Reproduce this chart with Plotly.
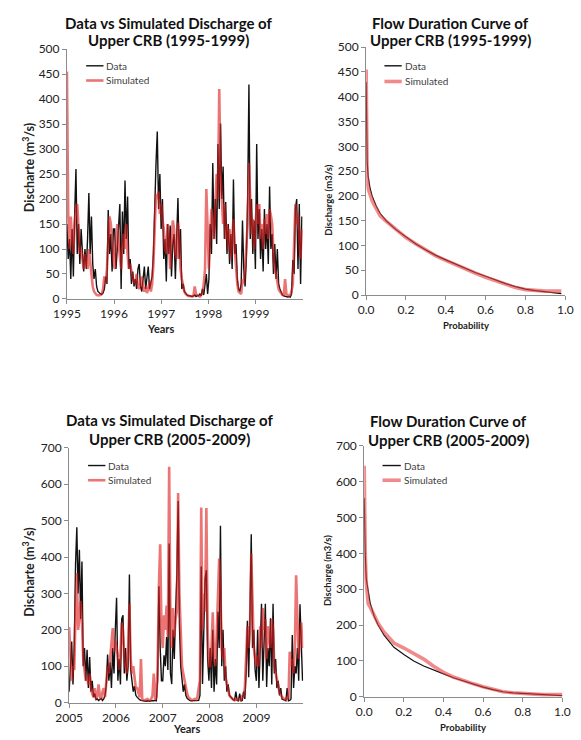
import pandas as pd
import plotly.graph_objects as go

# ---------------- data ----------------
# Daily discharge series sampled every 10 days (m3/s)
STEP = "10D"
START_1 = "1995-01-01"
START_2 = "2005-01-01"

data_1995_1999 = [
    # 1995
    150, 80, 120, 40, 140, 45, 170, 260, 90, 150, 70, 140, 95, 55, 100, 60, 120, 212, 90, 165,
    70, 40, 60, 25, 15, 12, 10, 9, 12, 20, 45, 30, 178, 90, 130, 55, 140,
    # 1996
    140, 60, 100, 150, 190, 20, 175, 90, 237, 120, 205, 60, 80, 30, 55, 25, 40, 20, 60, 70,
    25, 15, 50, 65, 20, 40, 65, 20, 30, 45, 90, 200, 270, 335, 180, 250, 140,
    # 1997
    200, 80, 120, 35, 150, 90, 147, 45, 110, 130, 40, 150, 202, 80, 140, 20, 30, 15, 10, 8,
    7, 6, 6, 5, 6, 8, 5, 7, 6, 10, 6, 20, 8, 35, 50, 10,
    # 1998
    40, 150, 90, 272, 120, 200, 110, 310, 180, 351, 200, 265, 120, 194, 90, 150, 70, 130, 60, 239,
    90, 110, 40, 20, 15, 30, 157, 60, 25, 80, 200, 429, 120, 200, 90, 157, 60,
    # 1999
    310, 120, 180, 80, 140, 55, 180, 100, 150, 70, 225, 100, 130, 50, 110, 40, 100, 30, 20, 12,
    8, 6, 5, 5, 4, 5, 4, 10, 78, 50, 180, 200, 60, 190, 30, 165,
]
sim_1995_1999 = [
    # 1995
    455, 170, 100, 165, 120, 90, 150, 185, 190, 120, 90, 100, 80, 60, 90, 70, 60, 100, 70, 40,
    25, 15, 10, 8, 7, 7, 8, 10, 20, 45, 30, 60, 120, 165, 150, 110, 80,
    # 1996
    60, 120, 150, 110, 80, 60, 110, 130, 100, 150, 90, 60, 70, 55, 40, 35, 30, 50, 25, 20,
    30, 45, 20, 15, 25, 12, 20, 35, 15, 30, 70, 150, 210, 200, 215, 170, 190,
    # 1997
    160, 140, 100, 90, 150, 120, 60, 100, 157, 140, 90, 80, 153, 120, 60, 40, 25, 15, 10, 8,
    6, 6, 5, 5, 6, 25, 10, 8, 6, 5, 8, 12, 30, 60, 220, 120,
    # 1998
    60, 130, 180, 150, 120, 190, 250, 200, 420, 250, 180, 150, 190, 120, 150, 100, 140, 80, 120, 160,
    100, 60, 30, 15, 12, 10, 40, 30, 60, 120, 150, 272, 180, 130, 160, 100, 140,
    # 1999
    190, 150, 190, 120, 150, 100, 160, 130, 170, 120, 180, 167, 150, 90, 60, 50, 30, 20, 15, 10,
    8, 7, 40, 10, 7, 6, 8, 15, 30, 100, 190, 150, 170, 120, 80, 140,
]
data_2005_2009 = [
    # 2005
    30, 90, 168, 50, 160, 380, 482, 300, 420, 230, 388, 100, 150, 60, 145, 40, 125, 30, 60, 15,
    25, 8, 10, 6, 8, 12, 6, 10, 20, 50, 132, 60, 110, 40, 150, 80, 200,
    # 2006
    288, 60, 120, 50, 230, 240, 80, 150, 60, 100, 352, 90, 60, 30, 45, 20, 15, 10, 8, 6,
    5, 5, 4, 4, 5, 4, 4, 5, 4, 5, 6, 5, 60, 320, 150, 60,
    # 2007
    60, 130, 100, 180, 90, 437, 80, 51, 200, 120, 250, 350, 554, 214, 100, 60, 30, 50, 20, 12,
    8, 6, 5, 5, 4, 4, 5, 5, 6, 20, 374, 51, 200, 340, 364, 120, 60,
    # 2008
    150, 40, 200, 30, 120, 50, 250, 150, 486, 100, 200, 60, 100, 30, 50, 20, 15, 10, 8, 6,
    30, 6, 5, 25, 5, 6, 30, 10, 80, 225, 70, 240, 463, 150, 200, 90,
    # 2009
    60, 200, 40, 150, 272, 60, 200, 272, 43, 150, 100, 232, 50, 272, 80, 120, 40, 60, 20, 40,
    10, 8, 6, 5, 40, 5, 6, 10, 186, 40, 100, 80, 150, 60, 270, 150, 60,
]
sim_2005_2009 = [
    # 2005
    208, 120, 60, 100, 90, 250, 356, 200, 230, 280, 220, 120, 80, 60, 70, 50, 80, 40, 25, 15,
    40, 10, 20, 50, 15, 10, 30, 40, 15, 60, 100, 80, 130, 160, 205, 140, 170,
    # 2006
    150, 130, 90, 130, 220, 200, 120, 100, 80, 150, 272, 120, 80, 100, 60, 40, 40, 30, 15, 120,
    8, 7, 6, 8, 10, 7, 6, 10, 20, 80, 8, 15, 100, 320, 435, 200,
    # 2007
    150, 240, 200, 267, 180, 648, 220, 150, 260, 180, 230, 250, 576, 300, 159, 100, 80, 60, 40, 25,
    15, 10, 8, 7, 8, 10, 8, 15, 40, 60, 536, 200, 300, 250, 535, 200, 100,
    # 2008
    100, 150, 248, 120, 100, 180, 300, 396, 300, 150, 120, 150, 70, 50, 30, 20, 15, 10, 8, 7,
    10, 8, 7, 10, 8, 20, 15, 40, 140, 210, 150, 200, 410, 250, 150, 120,
    # 2009
    100, 130, 100, 210, 150, 260, 200, 230, 120, 210, 180, 150, 230, 200, 100, 80, 60, 40, 30, 20,
    15, 10, 8, 10, 15, 10, 140, 100, 120, 80, 150, 350, 200, 120, 180, 220, 150,
]

# Flow duration curves (exceedance probability vs discharge)
fdc_prob_1995 = [0, 0.002, 0.005, 0.01, 0.02, 0.03, 0.05, 0.07, 0.1, 0.15, 0.2, 0.25, 0.3, 0.35,
                 0.4, 0.45, 0.5, 0.55, 0.6, 0.65, 0.7, 0.75, 0.8, 0.85, 0.9, 0.95, 0.98]
fdc_data_1995 = [430, 330, 270, 240, 215, 200, 180, 165, 150, 132, 117, 103, 91, 80,
                 71, 62, 53, 45, 38, 30, 23, 17, 12, 9, 7, 5, 3]
fdc_sim_1995 = [455, 300, 240, 215, 200, 190, 175, 160, 149, 132, 116, 103, 90, 79,
                70, 61, 52, 44, 36, 29, 21, 15, 11, 9, 8, 8, 8]

fdc_prob_2005 = [0, 0.002, 0.005, 0.01, 0.02, 0.03, 0.05, 0.07, 0.1, 0.15, 0.2, 0.25, 0.3, 0.35,
                 0.4, 0.45, 0.5, 0.55, 0.6, 0.65, 0.7, 0.75, 0.8, 0.85, 0.9, 0.95, 1.0]
fdc_data_2005 = [555, 470, 400, 330, 290, 262, 225, 200, 172, 138, 118, 100, 86, 74,
                 64, 53, 44, 35, 27, 20, 14, 11, 9, 7, 6, 5, 3]
fdc_sim_2005 = [645, 500, 400, 320, 260, 250, 225, 205, 180, 150, 136, 120, 105, 85,
                68, 55, 45, 36, 28, 20, 14, 11, 9, 7, 6, 6, 6]

years_1 = ["1995", "1996", "1997", "1998", "1999"]
years_2 = ["2005", "2006", "2007", "2008", "2009"]

series_names = ["Data", "Simulated"]

titles = [
    ("Data vs Simulated Discharge of", "Upper CRB (1995-1999)"),
    ("Flow Duration Curve of", "Upper CRB (1995-1999)"),
    ("Data vs Simulated Discharge of", "Upper CRB (2005-2009)"),
    ("Flow Duration Curve of", "Upper CRB (2005-2009)"),
]

# ---------------- figure ----------------
W, H = 581, 740
FONT = "Lato"
BLACK = "#111111"
RED = "rgba(222, 30, 30, 0.62)"
RED_FDC = "rgba(232, 60, 60, 0.6)"
AXC = "#8c8c8c"


def fx(x):
    return x / W


def fy(y):
    return 1 - y / H


dates_1 = pd.date_range(START_1, periods=len(data_1995_1999), freq=STEP)
dates_2 = pd.date_range(START_2, periods=len(data_2005_2009), freq=STEP)

fig = go.Figure()

panels = [
    (dates_1, data_1995_1999, sim_1995_1999, "x", "y", 1.4, 2.6, RED),
    (fdc_prob_1995, fdc_data_1995, fdc_sim_1995, "x2", "y2", 1.2, 3.6, RED_FDC),
    (dates_2, data_2005_2009, sim_2005_2009, "x3", "y3", 1.4, 2.6, RED),
    (fdc_prob_2005, fdc_data_2005, fdc_sim_2005, "x4", "y4", 1.2, 3.6, RED_FDC),
]
for xs, yd, ysim, xa, ya, wd, ws, rc in panels:
    fig.add_trace(go.Scatter(x=xs, y=yd, mode="lines", name=series_names[0],
                             line=dict(color=BLACK, width=wd), xaxis=xa, yaxis=ya,
                             showlegend=False))
    fig.add_trace(go.Scatter(x=xs, y=ysim, mode="lines", name=series_names[1],
                             line=dict(color=rc, width=ws), xaxis=xa, yaxis=ya,
                             showlegend=False))

tickfont = dict(family=FONT, size=12, color="#222222")
common_ax = dict(showline=True, linecolor=AXC, linewidth=1, ticks="outside", ticklen=4,
                 tickcolor=AXC, showgrid=False, zeroline=False, tickfont=tickfont, fixedrange=True)

fig.update_layout(
    width=W, height=H, autosize=False,
    margin=dict(l=0, r=0, t=0, b=0),
    paper_bgcolor="white", plot_bgcolor="white",
    font=dict(family=FONT, color="#222222"),
    showlegend=False,
    xaxis=dict(domain=[fx(55), fx(300)], anchor="y", type="date",
               range=["1995-01-01", "2000-01-01"],
               tickvals=[f"{y}-01-01" for y in years_1], ticktext=years_1, **common_ax),
    yaxis=dict(domain=[fy(297), fy(42)], anchor="x", range=[0, 500], dtick=50, **common_ax),
    xaxis2=dict(domain=[fx(366), fx(573)], anchor="y2", range=[0, 1], dtick=0.2,
                tickformat=".1f", **common_ax),
    yaxis2=dict(domain=[fy(293), fy(40)], anchor="x2", range=[0, 500], dtick=50, **common_ax),
    xaxis3=dict(domain=[fx(57.3), fx(300.7)], anchor="y3", type="date",
                range=["2005-01-01", "2010-01-01"],
                tickvals=[f"{y}-01-01" for y in years_2], ticktext=years_2, **common_ax),
    yaxis3=dict(domain=[fy(709), fy(449)], anchor="x3", range=[0, 700], dtick=100, **common_ax),
    xaxis4=dict(domain=[fx(364), fx(570)], anchor="y4", range=[0, 1], dtick=0.2,
                tickformat=".1f", **common_ax),
    yaxis4=dict(domain=[fy(703), fy(447)], anchor="x4", range=[0, 700], dtick=100, **common_ax),
)

ann = []
shapes = []

# manual legends: (line x0, line x1, y of first item, y of second item)
legend_pos = [(75, 93, 59, 74), (385, 403, 59, 75), (77, 95, 467, 482), (383, 402, 467, 482)]
for i, (x0, x1, y1, y2) in enumerate(legend_pos):
    rc = panels[i][7]
    ws = panels[i][6]
    shapes.append(dict(type="line", xref="paper", yref="paper", x0=fx(x0), x1=fx(x1),
                       y0=fy(y1), y1=fy(y1), line=dict(color=BLACK, width=1.4)))
    shapes.append(dict(type="line", xref="paper", yref="paper", x0=fx(x0), x1=fx(x1),
                       y0=fy(y2), y1=fy(y2), line=dict(color=rc, width=ws)))
    for name, yy in zip(series_names, (y1, y2)):
        ann.append(dict(text=name, x=fx(x1 + 1), y=fy(yy), xref="paper", yref="paper",
                        xanchor="left", yanchor="middle", showarrow=False,
                        font=dict(family=FONT, size=10, color="#404040")))

# chart titles (two lines each)
title_pos = [(161, 15, 33), (454, 15, 33), (162, 421, 440), (452, 422, 441)]
for (l1, l2), (cx, ya, yb) in zip(titles, title_pos):
    for txt, yy in ((l1, ya), (l2, yb)):
        ann.append(dict(text=f"<b>{txt}</b>", x=fx(cx), y=fy(yy), xref="paper", yref="paper",
                        xanchor="center", yanchor="middle", showarrow=False,
                        font=dict(family=FONT, size=15, color="#111111")))

# axis titles
axis_titles = [
    ("Discharte (m<sup>3</sup>/s)", 15, 163, -90, 12.5),
    ("Discharte (m<sup>3</sup>/s)", 15, 576, -90, 12.5),
    ("Discharge (m3/s)", 326, 196, -90, 9.5),
    ("Discharge (m3/s)", 326, 574, -90, 9.5),
    ("Years", 152, 327, 0, 11),
    ("Years", 179, 735, 0, 11),
    ("Probability", 470, 324, 0, 9.5),
    ("Probability", 467, 734, 0, 9.5),
]
for text, cx, cy, ang, sz in axis_titles:
    ann.append(dict(text=f"<b>{text}</b>", x=fx(cx), y=fy(cy), xref="paper", yref="paper",
                    xanchor="center", yanchor="middle", showarrow=False, textangle=ang,
                    font=dict(family=FONT, size=sz, color="#222222")))
fig.update_layout(annotations=ann, shapes=shapes)

fig.write_html("out.html")
